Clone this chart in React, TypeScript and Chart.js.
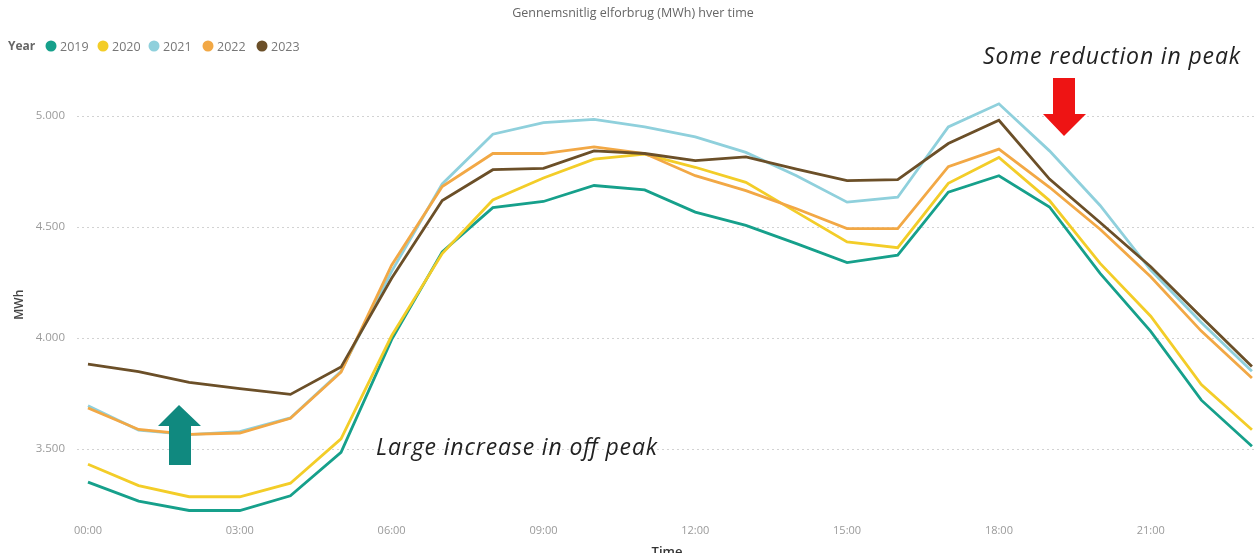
import React, { useEffect, useRef } from "react";
import { Chart, registerables } from "chart.js";

Chart.register(...registerables);

const HOURS = [
  "00:00", "01:00", "02:00", "03:00", "04:00", "05:00", "06:00", "07:00",
  "08:00", "09:00", "10:00", "11:00", "12:00", "13:00", "14:00", "15:00",
  "16:00", "17:00", "18:00", "19:00", "20:00", "21:00", "22:00", "23:00",
];
const SHOWN_HOURS = [0, 3, 6, 9, 12, 15, 18, 21];
const Y_TICKS = [3500, 4000, 4500, 5000];

const YEARS = ["2019", "2020", "2021", "2022", "2023"];
const COLORS = ["#16a08b", "#f3cd28", "#8fd0dc", "#f2a845", "#6b4f28"];

const Y2019 = [3351, 3265, 3223, 3223, 3289, 3485, 3993, 4388, 4587, 4615, 4687, 4667, 4567, 4507, 4425, 4340, 4373, 4657, 4731, 4590, 4291, 4030, 3720, 3512];
const Y2020 = [3431, 3335, 3285, 3285, 3346, 3546, 4010, 4380, 4622, 4721, 4806, 4828, 4769, 4701, 4567, 4433, 4407, 4697, 4813, 4619, 4336, 4098, 3790, 3587];
const Y2021 = [3695, 3585, 3565, 3578, 3640, 3850, 4300, 4694, 4918, 4970, 4985, 4951, 4906, 4836, 4731, 4612, 4634, 4951, 5055, 4843, 4597, 4306, 4070, 3850];
const Y2022 = [3685, 3588, 3566, 3572, 3638, 3846, 4328, 4682, 4831, 4831, 4861, 4831, 4731, 4664, 4582, 4493, 4493, 4772, 4851, 4679, 4490, 4276, 4031, 3820];
const Y2023 = [3882, 3849, 3800, 3772, 3746, 3869, 4269, 4619, 4758, 4764, 4843, 4831, 4799, 4816, 4761, 4709, 4713, 4876, 4981, 4716, 4520, 4321, 4095, 3872];
const SERIES = [Y2019, Y2020, Y2021, Y2022, Y2023];

const TITLE = "Gennemsnitlig elforbrug (MWh) hver time";
const NOTE_PEAK = "Some reduction in peak";
const NOTE_OFFPEAK = "Large increase in off peak";

const W = 1257;
const H = 553;
const FONT = "'Open Sans', 'Noto Sans', sans-serif";

function fmt(v: number): string {
  const t = Math.floor(v / 1000);
  const r = String(Math.round(v % 1000)).padStart(3, "0");
  return `${t}.${r}`;
}

export default function App() {
  const ref = useRef<HTMLCanvasElement | null>(null);

  useEffect(() => {
    if (!ref.current) return;
    const chart = new Chart(ref.current, {
      type: "line",
      data: {
        datasets: YEARS.map((y, i) => ({
          label: y,
          data: SERIES[i].map((v, h) => ({ x: h, y: v })),
          borderColor: COLORS[i],
          backgroundColor: COLORS[i],
          borderWidth: 2.8,
          pointRadius: 0,
          tension: 0,
          fill: false,
          order: YEARS.length - i,
        })),
      },
      options: {
        animation: false,
        responsive: false,
        maintainAspectRatio: false,
        layout: { padding: { top: 93.8, left: 0, right: 0, bottom: 0 } },
        plugins: {
          legend: { display: false },
          title: { display: false },
          tooltip: { enabled: false },
        },
        scales: {
          x: {
            type: "linear",
            min: -0.217,
            max: 23.1,
            afterFit: (s: any) => {
              s.height = 37.4;
            },
            afterBuildTicks: (s: any) => {
              s.ticks = SHOWN_HOURS.map((v) => ({ value: v }));
            },
            ticks: {
              callback: (v: any) => HOURS[Number(v)] ?? "",
              color: "#9a9a9a",
              font: { size: 11, family: FONT },
              padding: 9,
              maxRotation: 0,
              autoSkip: false,
            },
            grid: { display: false, drawTicks: false },
            border: { display: false },
            title: {
              display: true,
              text: "Time",
              color: "#333",
              font: { size: 13, weight: "600", family: FONT },
              padding: { top: 0, bottom: -7 },
            },
          },
          y: {
            type: "linear",
            min: 3200,
            max: 5100,
            afterFit: (s: any) => {
              s.width = 77;
            },
            afterBuildTicks: (s: any) => {
              s.ticks = Y_TICKS.map((v) => ({ value: v }));
            },
            ticks: {
              callback: (v: any) => fmt(Number(v)),
              color: "#9a9a9a",
              font: { size: 11.5, family: FONT },
              padding: 12,
            },
            grid: { color: "#d2d2d2", lineWidth: 1, drawTicks: false },
            border: { display: false, dash: [2, 3] },
            title: {
              display: true,
              text: "MWh",
              color: "#444",
              font: { size: 12, weight: "600", family: FONT },
              padding: { top: 12, bottom: 0 },
            },
          },
        },
      } as any,
    });
    return () => chart.destroy();
  }, []);

  const legendItems = [
    { cx: 51, tx: 60 },
    { cx: 103, tx: 112 },
    { cx: 154, tx: 163 },
    { cx: 208, tx: 217 },
    { cx: 262, tx: 271 },
  ];

  return (
    <div
      style={{
        position: "absolute",
        left: 0,
        top: 0,
        width: W,
        height: H,
        overflow: "hidden",
        background: "#fff",
      }}
    >
      <canvas ref={ref} width={W} height={H} style={{ position: "absolute", left: 0, top: 0, width: W, height: H }} />
      <svg
        width={W}
        height={H}
        style={{ position: "absolute", left: 0, top: 0, pointerEvents: "none" }}
      >
        <text x={633} y={17} textAnchor="middle" fontFamily={FONT} fontSize={12.5} fill="#666">
          {TITLE}
        </text>
        <text x={8} y={50} fontFamily={FONT} fontSize={12} fontWeight={700} fill="#666">
          Year
        </text>
        {YEARS.map((y, i) => (
          <g key={y}>
            <circle cx={legendItems[i].cx} cy={46} r={5.5} fill={COLORS[i]} />
            <text x={legendItems[i].tx} y={50.5} fontFamily={FONT} fontSize={12.5} fill="#777">
              {y}
            </text>
          </g>
        ))}
        <text
          x={983}
          y={64}
          fontFamily={FONT}
          fontStyle="italic"
          fontSize={23}
          fill="#222"
          textLength={257}
          lengthAdjust="spacing"
        >
          {NOTE_PEAK}
        </text>
        <text
          x={376}
          y={455}
          fontFamily={FONT}
          fontStyle="italic"
          fontSize={23}
          fill="#222"
          textLength={281}
          lengthAdjust="spacing"
        >
          {NOTE_OFFPEAK}
        </text>
        <polygon
          points="1053,78 1075,78 1075,114 1086,114 1064,136 1043,114 1053,114"
          fill="#ee1414"
        />
        <polygon
          points="179,405 201,426 191,426 191,465 169,465 169,426 158,426"
          fill="#10897f"
        />
      </svg>
    </div>
  );
}
